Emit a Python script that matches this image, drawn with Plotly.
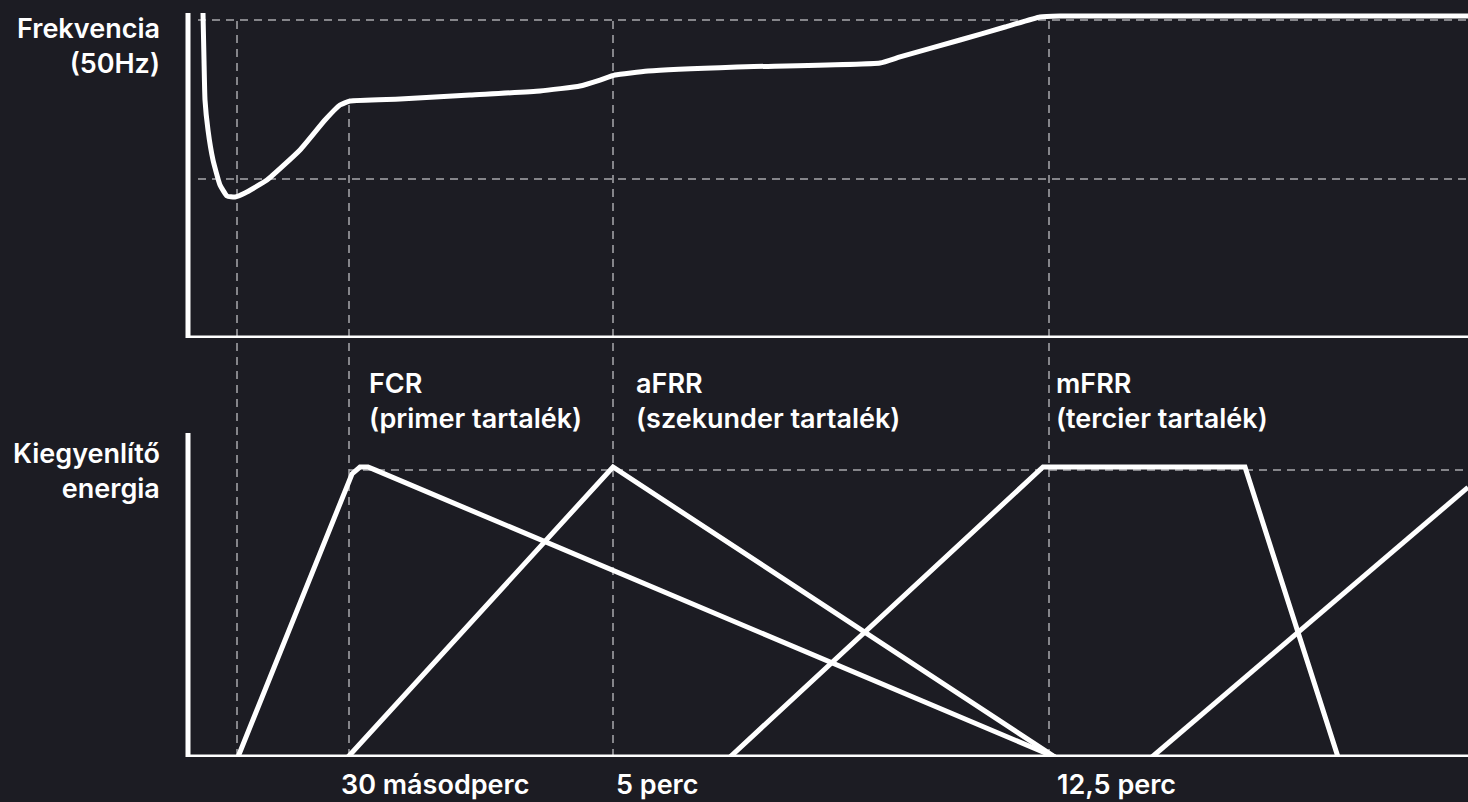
import plotly.graph_objects as go

# ---------------- data (schematic time axis in arbitrary units) ----------------
# Frequency response (Hz)
freq_t = [15, 16, 17, 20, 25, 32, 39, 47, 57, 79, 112, 137, 152, 162, 212, 282, 352, 392, 412, 427,
          460, 549, 692, 712, 772, 817, 852, 872, 1280]
freq_hz = [50.0088, 49.9497, 49.8994, 49.8616, 49.8239, 49.7925, 49.7786, 49.7774, 49.7824, 49.7987,
           49.8365, 49.8742, 49.8931, 49.8981, 49.9006, 49.9057, 49.9107, 49.9170, 49.9245, 49.9308,
           49.9358, 49.9409, 49.9459, 49.9535, 49.9748, 49.9912, 50.0038, 50.0050, 50.0050]

# Balancing energy activation (% of full)
fcr_t = [50, 164, 172, 180, 187, 867]
fcr_e = [0, 97.6, 100, 100, 99, 0]
afrr_t = [160, 425, 867]
afrr_e = [0, 100, 0]
mfrr_t = [542, 855, 1057, 1150]
mfrr_e = [0, 100, 100, 0]
rr_t = [964, 1280]
rr_e = [0, 93]

# Reference markers on the time axis
mark_t = [49, 161, 425, 861]
mark_top = [50.0, 49.899, 50.0, 50.0]   # where each dashed marker starts (Hz)
f_nominal = 50.0
f_low = 49.8
e_full = 99

time_labels = ["30 másodperc", "5 perc", "12,5 perc"]
product_labels = ["FCR<br>(primer tartalék)", "aFRR<br>(szekunder tartalék)", "mFRR<br>(tercier tartalék)"]
y_labels = ["Frekvencia<br>(50Hz)", "Kiegyenlítő<br>energia"]

# ---------------- layout constants ----------------
W, H = 1468, 802
BG = "#1c1c23"
WHITE = "#ffffff"
DASH = "#a8a8ad"
FONT = "Inter"

X0, X1 = -188, 1280
TOP_DOM = [1 - 338 / H, 1]
TOP_RANGE = [49.6, 50.0 + 20 / 795]
BOT_DOM = [1 - 757 / H, 1 - 420 / H]
BOT_RANGE = [0, 337 / 2.9]

fig = go.Figure()
line = dict(color=WHITE, width=5)
fig.add_trace(go.Scatter(x=freq_t, y=freq_hz, mode="lines",
                         line=dict(color=WHITE, width=5, shape="spline", smoothing=0.4),
                         yaxis="y", hoverinfo="skip"))
for tt, ee in [(fcr_t, fcr_e), (afrr_t, afrr_e), (mfrr_t, mfrr_e), (rr_t, rr_e)]:
    fig.add_trace(go.Scatter(x=tt, y=ee, mode="lines", line=line, yaxis="y2", hoverinfo="skip"))

shapes = []
dash = dict(color=DASH, width=1.5, dash="8px,6px")
shapes.append(dict(type="line", xref="x", yref="y", x0=10, x1=X1, y0=f_nominal, y1=f_nominal, line=dash, layer="below"))
shapes.append(dict(type="line", xref="x", yref="y", x0=10, x1=X1, y0=f_low, y1=f_low, line=dash, layer="below"))
shapes.append(dict(type="line", xref="x", yref="y2", x0=mark_t[1], x1=X1, y0=e_full, y1=e_full, line=dash, layer="below"))


def hz_to_paper(v):
    return TOP_DOM[0] + (v - TOP_RANGE[0]) / (TOP_RANGE[1] - TOP_RANGE[0]) * (TOP_DOM[1] - TOP_DOM[0])


for t, top in zip(mark_t, mark_top):
    shapes.append(dict(type="line", xref="x", yref="paper", x0=t, x1=t, y0=BOT_DOM[0], y1=hz_to_paper(top),
                       line=dash, layer="below"))

axis = dict(color=WHITE, width=5)
shapes.append(dict(type="line", xref="x", yref="y", x0=0, x1=0, y0=TOP_RANGE[0], y1=50.0088, line=axis))
shapes.append(dict(type="line", xref="x", yref="y", x0=-2, x1=X1, y0=TOP_RANGE[0], y1=TOP_RANGE[0], line=axis))
shapes.append(dict(type="line", xref="x", yref="y2", x0=0, x1=0, y0=0, y1=111.7, line=axis))
shapes.append(dict(type="line", xref="x", yref="y2", x0=-2, x1=X1, y0=0, y1=0, line=axis))

font = dict(family=FONT, size=27, color=WHITE, weight=600)
ann = []
ann.append(dict(text=y_labels[0], x=162 / W, y=1 - 46 / H, xref="paper", yref="paper",
                xanchor="right", yanchor="middle", align="right", showarrow=False, font=font))
ann.append(dict(text=y_labels[1], x=162 / W, y=1 - 471 / H, xref="paper", yref="paper",
                xanchor="right", yanchor="middle", align="right", showarrow=False, font=font))
for lbl, px in zip(product_labels, [367, 634, 1054]):
    ann.append(dict(text=lbl, x=px / W, y=1 - 401 / H, xref="paper", yref="paper",
                    xanchor="left", yanchor="middle", align="left", showarrow=False, font=font))
for lbl, px in zip(time_labels, [339, 614, 1055]):
    ann.append(dict(text=lbl, x=px / W, y=1 - 784 / H, xref="paper", yref="paper",
                    xanchor="left", yanchor="middle", align="left", showarrow=False, font=font))

fig.update_layout(
    width=W, height=H,
    margin=dict(l=0, r=0, t=0, b=0),
    paper_bgcolor=BG, plot_bgcolor=BG,
    showlegend=False,
    xaxis=dict(range=[X0, X1], domain=[0, 1], visible=False, fixedrange=True),
    yaxis=dict(range=TOP_RANGE, domain=TOP_DOM, visible=False, fixedrange=True),
    yaxis2=dict(range=BOT_RANGE, domain=BOT_DOM, visible=False, fixedrange=True, anchor="x"),
    shapes=shapes,
    annotations=ann,
)

fig.write_html("out.html", config={"displayModeBar": False},
               post_script="document.body.style.margin='0';document.body.style.overflow='hidden';"
                           "document.body.style.background='" + BG + "';")
